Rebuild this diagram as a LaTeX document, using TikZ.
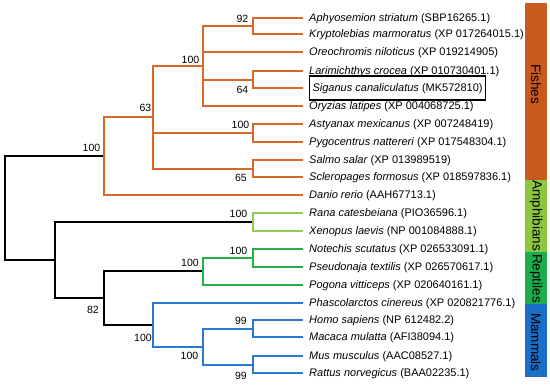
\documentclass[tikz,border=0pt]{standalone}
\usepackage{fontspec}
\setmainfont{Liberation Sans}
\definecolor{fishc}{HTML}{D4692A}
\definecolor{fishbar}{HTML}{C95A1D}
\definecolor{ampc}{HTML}{8FCB4E}
\definecolor{ampbar}{HTML}{8DC63F}
\definecolor{repc}{HTML}{25B04A}
\definecolor{repbar}{HTML}{1CAD4C}
\definecolor{mamc}{HTML}{2A7BCF}
\definecolor{mambar}{HTML}{1B6EC6}
\tikzset{
  br/.style={line width=1.4pt},
  leaf/.style={anchor=west,inner xsep=6pt,inner ysep=0pt,text height=8pt,text depth=0pt,font=\fontsize{11}{11}\selectfont},
  boot/.style={inner sep=0pt,text height=7.7pt,text depth=0pt,font=\fontsize{10.5}{10.5}\selectfont},
  barlab/.style={rotate=-90,inner sep=0pt,font=\fontsize{13.5}{13.5}\selectfont}
}
\begin{document}
\begin{tikzpicture}[x=1pt,y=-1pt]
\useasboundingbox (0,0) rectangle (550,385);
% colour bars
\fill[fishbar] (525,3) rectangle (547,180);
\fill[ampbar] (525,180) rectangle (547,252);
\fill[repbar] (525,252) rectangle (547,304);
\fill[mambar] (525,304) rectangle (547,377);
\node[barlab] (bf) at (536,84) {Fishes};
\node[barlab] (ba) at (536,216) {Amphibians};
\node[barlab] (bre) at (536,278.5) {Reptiles};
\node[barlab] (bm) at (536,342.5) {Mammals};
% internal nodes
\coordinate (r) at (5,208);
\coordinate (f100) at (104,156);
\coordinate (n63) at (153,117);
\coordinate (n100a) at (203,66);
\coordinate (n92) at (253,26);
\coordinate (n64) at (253,80);
\coordinate (n100b) at (253,133);
\coordinate (n65) at (253,169);
\coordinate (t) at (55,260);
\coordinate (amph) at (253,222);
\coordinate (n82) at (104,298);
\coordinate (rep) at (203,271);
\coordinate (n100c) at (253,258);
\coordinate (mam) at (153,325);
\coordinate (n100d) at (203,347);
\coordinate (n99a) at (253,329);
\coordinate (n99b) at (253,365);
% leaves
\node[leaf] (l1) at (303,18) {\textit{Aphyosemion striatum} (SBP16265.1)};
\node[leaf] (l2) at (303,34) {\textit{Kryptolebias marmoratus} (XP 017264015.1)};
\node[leaf] (l3) at (303,52) {\textit{Oreochromis niloticus} (XP 019214905)};
\node[leaf] (l4) at (303,71) {\textit{Larimichthys crocea} (XP 010730401.1)};
\node[draw,line width=1.2pt,anchor=west,inner xsep=3pt,inner ysep=0pt,text height=8pt,text depth=0pt,minimum height=24pt,minimum width=173pt,font=\fontsize{11}{11}\selectfont] (l5) at (309,88) {\textit{Siganus canaliculatus} (MK572810)};
\node[leaf] (l6) at (303,106) {\textit{Oryzias latipes} (XP 004068725.1)};
\node[leaf] (l7) at (303,124) {\textit{Astyanax mexicanus} (XP 007248419)};
\node[leaf] (l8) at (303,142) {\textit{Pygocentrus nattereri} (XP 017548304.1)};
\node[leaf] (l9) at (303,160) {\textit{Salmo salar} (XP 013989519)};
\node[leaf] (l10) at (303,177) {\textit{Scleropages formosus} (XP 018597836.1)};
\node[leaf] (l11) at (303,195) {\textit{Danio rerio} (AAH67713.1)};
\node[leaf] (l12) at (303,213) {\textit{Rana catesbeiana} (PIO36596.1)};
\node[leaf] (l13) at (303,231) {\textit{Xenopus laevis} (NP 001084888.1)};
\node[leaf] (l14) at (303,249) {\textit{Notechis scutatus} (XP 026533091.1)};
\node[leaf] (l15) at (303,267) {\textit{Pseudonaja textilis} (XP 026570617.1)};
\node[leaf] (l16) at (303,285) {\textit{Pogona vitticeps} (XP 020640161.1)};
\node[leaf] (l17) at (303,303) {\textit{Phascolarctos cinereus} (XP 020821776.1)};
\node[leaf] (l18) at (303,320) {\textit{Homo sapiens} (NP 612482.2)};
\node[leaf] (l19) at (303,337) {\textit{Macaca mulatta} (AFI38094.1)};
\node[leaf] (l20) at (303,356) {\textit{Mus musculus} (AAC08527.1)};
\node[leaf] (l21) at (303,373) {\textit{Rattus norvegicus} (BAA02235.1)};
% black backbone
\draw[br,black] (r) |- (f100);
\draw[br,black] (r) |- (t);
\draw[br,black] (t) |- (amph);
\draw[br,black] (t) |- (n82);
\draw[br,black] (n82) |- (rep);
\draw[br,black] (n82) |- (mam);
% fishes
\begin{scope}[br,draw=fishc]
\draw (f100) |- (n63);
\draw (f100) |- (l11.west);
\draw (n63) |- (n100a);
\draw (n63) |- (n100b);
\draw (n63) |- (n65);
\draw (n100a) |- (n92);
\draw (n100a) |- (l3.west);
\draw (n100a) |- (n64);
\draw (n100a) |- (l6.west);
\draw (n92) |- (l1.west);
\draw (n92) |- (l2.west);
\draw (n64) |- (l4.west);
\draw[shorten >=6pt] (n64) |- (l5.west);
\draw (n100b) |- (l7.west);
\draw (n100b) |- (l8.west);
\draw (n65) |- (l9.west);
\draw (n65) |- (l10.west);
\end{scope}
% amphibians
\begin{scope}[br,draw=ampc]
\draw (amph) |- (l12.west);
\draw (amph) |- (l13.west);
\end{scope}
% reptiles
\begin{scope}[br,draw=repc]
\draw (rep) |- (n100c);
\draw (rep) |- (l16.west);
\draw (n100c) |- (l14.west);
\draw (n100c) |- (l15.west);
\end{scope}
% mammals
\begin{scope}[br,draw=mamc]
\draw (mam) |- (l17.west);
\draw (mam) |- (n100d);
\draw (n100d) |- (n99a);
\draw (n100d) |- (n99b);
\draw (n99a) |- (l18.west);
\draw (n99a) |- (l19.west);
\draw (n99b) |- (l20.west);
\draw (n99b) |- (l21.west);
\end{scope}
% bootstrap values
\node[boot] (b92) at (242.5,19) {92};
\node[boot] (b100a) at (190.5,59.5) {100};
\node[boot] (b64) at (242.5,89.5) {64};
\node[boot] (b63) at (145.5,108) {63};
\node[boot] (b100b) at (240.5,124.5) {100};
\node[boot] (b65) at (241,177.5) {65};
\node[boot] (b100f) at (91.5,148) {100};
\node[boot] (b100am) at (238.5,213.5) {100};
\node[boot] (b100c) at (238.5,251) {100};
\node[boot] (b100r) at (190,263) {100};
\node[boot] (b82) at (93,310) {82};
\node[boot] (b100m) at (143,337.5) {100};
\node[boot] (b99a) at (241,320.5) {99};
\node[boot] (b100d) at (189.5,356) {100};
\node[boot] (b99b) at (241,376) {99};
\end{tikzpicture}
\end{document}
